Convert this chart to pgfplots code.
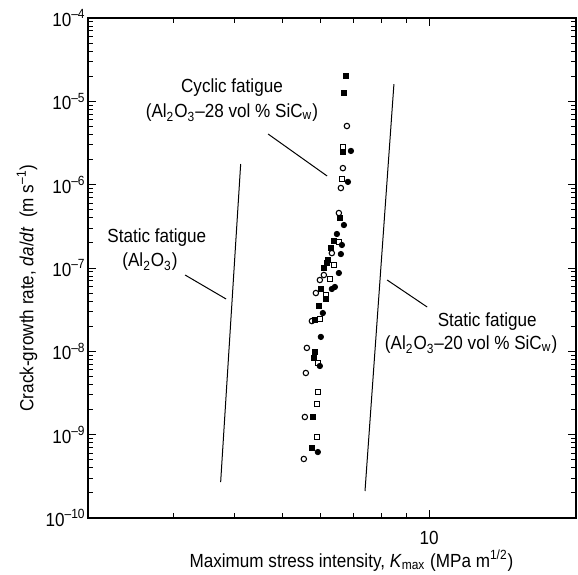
\documentclass[border=0pt]{standalone}
\usepackage{pgfplots}
\pgfplotsset{compat=1.18}
\usepackage{fontspec}
\setmainfont{Liberation Sans}[FakeStretch=0.9]
\begin{document}
\begin{tikzpicture}
\begin{loglogaxis}[
  at={(0,0)}, anchor=south west,
  scale only axis, width=244pt, height=250pt,
  xmin=2, xmax=20, ymin=1e-10, ymax=1e-4,
  xtick={10}, xticklabels={10},
  minor xtick={3,4,5,6,7,8,9,20},
  ytick={1e-10,1e-9,1e-8,1e-7,1e-6,1e-5,1e-4},
  yticklabels={10\textsuperscript{–10},10\textsuperscript{–9},10\textsuperscript{–8},10\textsuperscript{–7},10\textsuperscript{–6},10\textsuperscript{–5},10\textsuperscript{–4}},
  minor ytick={2e-10,3e-10,4e-10,5e-10,6e-10,7e-10,8e-10,9e-10,
               2e-9,3e-9,4e-9,5e-9,6e-9,7e-9,8e-9,9e-9,
               2e-8,3e-8,4e-8,5e-8,6e-8,7e-8,8e-8,9e-8,
               2e-7,3e-7,4e-7,5e-7,6e-7,7e-7,8e-7,9e-7,
               2e-6,3e-6,4e-6,5e-6,6e-6,7e-6,8e-6,9e-6,
               2e-5,3e-5,4e-5,5e-5,6e-5,7e-5,8e-5,9e-5},
  font=\fontsize{9.5}{10}\selectfont,
  axis line style={line width=0.8pt},
  major tick length=4pt, minor tick length=2.5pt,
  tick style={black, line width=0.5pt},
  yticklabel style={inner sep=1pt},
  xticklabel style={yshift=-3pt},
  xlabel={Maximum stress intensity, \textit{K}\textsubscript{max} (MPa m\textsuperscript{1/2})},
  ylabel={Crack-growth rate, \textit{da}/\textit{dt}\enspace (m s\textsuperscript{–1})},
  every axis x label/.style={at={(axis description cs:0.54,-0.098)}, anchor=base},
  every axis y label/.style={at={(axis description cs:-0.125,0.46)}, anchor=center, rotate=90},
  clip=false,
]
% Static fatigue lines
\addplot[black, line width=0.5pt] coordinates {(4.11,1.77e-6) (3.74,2.7e-10)};
\addplot[black, line width=0.5pt] coordinates {(8.47,1.61e-5) (7.39,2.11e-10)};
% open circles
\addplot[only marks, mark=o, mark size=1.35pt, mark options={line width=0.55pt}] coordinates {
(6.785,5.06e-6) (6.658,1.58e-6) (6.595,9.12e-7) (6.533,4.57e-7) (6.320,1.51e-7)
(6.086,8.24e-8) (5.972,7.18e-8) (5.861,5.01e-8) (5.751,2.31e-8) (5.617,1.10e-8)
(5.590,5.50e-9) (5.564,1.63e-9) (5.537,5.11e-10)};
% open squares
\addplot[only marks, mark=square, mark size=1.15pt, mark options={line width=0.55pt}] coordinates {
(6.658,2.83e-6) (6.627,1.17e-6) (6.533,2.05e-7) (6.380,1.09e-7) (6.261,7.38e-8)
(6.143,4.74e-8) (5.972,2.44e-8) (5.916,7.24e-9) (5.916,3.25e-9) (5.888,2.33e-9)
(5.888,9.37e-10)};
% filled squares
\addplot[only marks, mark=square*, mark size=1.15pt, mark options={fill=black}] coordinates {
(6.753,2.01e-5) (6.690,1.26e-5) (6.658,2.47e-6) (6.564,3.98e-7) (6.380,2.11e-7)
(6.290,1.74e-7) (6.202,1.25e-7) (6.173,1.15e-7) (6.086,1.00e-7) (6.000,5.60e-8)
(6.143,4.25e-8) (5.944,3.50e-8) (5.833,2.38e-8) (5.833,9.82e-9) (5.806,8.32e-9)
(5.778,1.63e-9) (5.751,6.92e-10)};
% filled circles
\addplot[only marks, mark=*, mark size=1.35pt, mark options={fill=black}] coordinates {
(6.915,2.54e-6) (6.818,1.08e-6) (6.690,3.28e-7) (6.472,2.56e-7) (6.627,1.89e-7)
(6.595,1.47e-7) (6.533,8.71e-8) (6.411,5.92e-8) (6.320,5.60e-8) (6.057,2.88e-8)
(6.000,1.49e-8) (5.972,6.67e-9) (5.916,6.19e-10)};
% annotations
\node at (rel axis cs:0.295,0.86) {Cyclic fatigue};
\node at (rel axis cs:0.295,0.81) {(Al\textsubscript{2}O\textsubscript{3}–28 vol \% SiC\textsubscript{w})};
\draw[line width=0.5pt] (rel axis cs:0.369,0.768) -- (rel axis cs:0.490,0.684);
\node at (rel axis cs:0.141,0.56) {Static fatigue};
\node at (rel axis cs:0.127,0.512) {(Al\textsubscript{2}O\textsubscript{3})};
\draw[line width=0.5pt] (rel axis cs:0.199,0.486) -- (rel axis cs:0.283,0.438);
\node at (rel axis cs:0.818,0.392) {Static fatigue};
\node at (rel axis cs:0.785,0.346) {(Al\textsubscript{2}O\textsubscript{3}–20 vol \% SiC\textsubscript{w})};
\draw[line width=0.5pt] (rel axis cs:0.613,0.476) -- (rel axis cs:0.695,0.422);
\end{loglogaxis}
\pgfresetboundingbox
\path[use as bounding box] (-44pt,-28pt) rectangle (245pt,259pt);
\end{tikzpicture}
\end{document}
